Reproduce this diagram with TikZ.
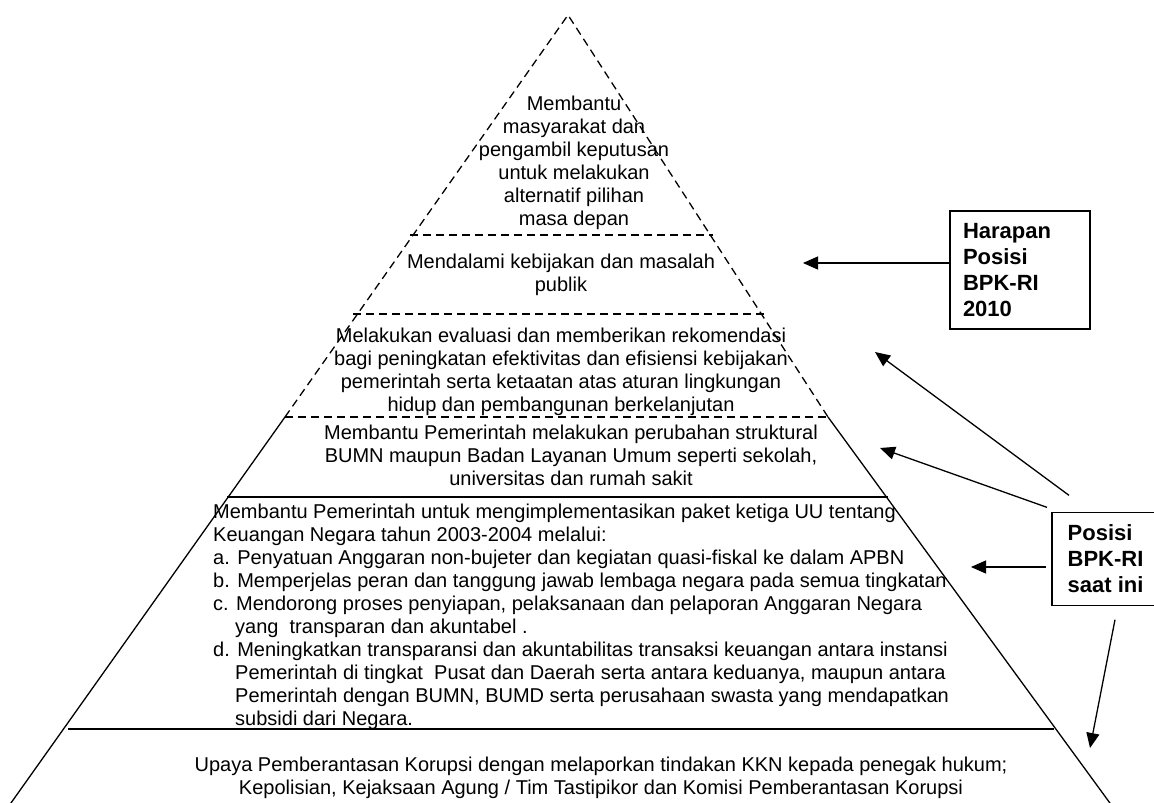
\documentclass[tikz,border=0pt]{standalone}
\usepackage{fontspec}
\setmainfont{Liberation Sans}
\usetikzlibrary{arrows.meta, positioning}

\begin{document}
\begin{tikzpicture}[x=1pt, y=-1pt,
		txt/.style={inner sep=0pt, align=center, font=\fontsize{20}{23}\selectfont},
		tag/.style={line width=1.3pt, inner ysep=0pt, align=left, font=\bfseries\fontsize{22}{26}\selectfont},
		pointer/.style={-{Triangle[length=15pt,width=13pt]}, line width=1.3pt},
		cut/.style={dash pattern=on 8pt off 5pt, line width=1.3pt},
		level/.style={line width=1.3pt}]
		\useasboundingbox (0,0) rectangle (1154,803);
		% pyramid
		\draw[cut] (285,417) -- (568,15) -- (828,417);
		\draw[cut] (410,235) -- (713,235);
		\draw[cut] (353,314) -- (767,314);
		\draw[cut] (285,417) -- (828,417);
		\draw[level] (285,417) -- (6,810);
		\draw[level] (828,417) -- (1115,810);
		\draw[level] (227,497) -- (888,497);
		\draw[level] (68,729) -- (1054,729);
		% texts
		\node at (574,163) [txt] (peak) {Membantu\\masyarakat dan\\pengambil keputusan\\untuk melakukan\\alternatif pilihan\\masa depan};
		\node at (561,275) [txt] (policy) {Mendalami kebijakan dan masalah\\publik};
		\node at (561,372) [txt] (evaluate) {Melakukan evaluasi dan memberikan rekomendasi\\bagi peningkatan efektivitas dan efisiensi kebijakan\\pemerintah serta ketaatan atas aturan lingkungan\\hidup dan pembangunan berkelanjutan};
		\node at (571,455) [txt] (reform) {Membantu Pemerintah melakukan perubahan struktural\\BUMN maupun Badan Layanan Umum seperti sekolah,\\universitas dan rumah sakit};
		\node at (213,504) [txt, align=left, anchor=north west] (finance) {Membantu Pemerintah untuk mengimplementasikan paket ketiga UU tentang\\Keuangan Negara tahun 2003-2004 melalui:\\a. Penyatuan Anggaran non-bujeter dan kegiatan quasi-fiskal ke dalam APBN\\b. Memperjelas peran dan tanggung jawab lembaga negara pada semua tingkatan\\c. Mendorong proses penyiapan, pelaksanaan dan pelaporan Anggaran Negara\\\hspace*{22pt}yang\ \ transparan dan akuntabel .\\d. Meningkatkan transparansi dan akuntabilitas transaksi keuangan antara instansi\\\hspace*{22pt}Pemerintah di tingkat\ \ Pusat dan Daerah serta antara keduanya, maupun antara\\\hspace*{22pt}Pemerintah dengan BUMN, BUMD serta perusahaan swasta yang mendapatkan\\\hspace*{22pt}subsidi dari Negara.};
		\node at (601,778) [txt] (kkn) {Upaya Pemberantasan Korupsi dengan melaporkan tindakan KKN kepada penegak hukum;\\Kepolisian, Kejaksaan Agung / Tim Tastipikor dan Komisi Pemberantasan Korupsi};
		% boxes
		\node at (1020,270) [tag, draw, text width=114pt, inner xsep=13pt, minimum height=118pt] (hope) {Harapan\\Posisi\\BPK-RI\\2010};
		\node at (1052,559) [tag, anchor=west, inner xsep=15pt, minimum height=92pt] (now) {Posisi\\BPK-RI\\saat ini};
		\draw[level] ([xshift=160pt]now.north west) -- (now.north west) -- (now.south west) -- ([xshift=160pt]now.south west);
		% arrows
		\coordinate (tipa) at (803,263);
		\coordinate (tipb) at (875,352);
		\coordinate (tipc) at (880,448);
		\coordinate (tipd) at (971,567);
		\coordinate (tipe) at (1090,748);
		\draw[pointer] ([yshift=7pt]hope.west) -- (tipa);
		\draw[pointer] ([xshift=17pt,yshift=17pt]now.north west) -- (tipb);
		\draw[pointer] ([xshift=-5pt,yshift=5pt]now.north west) -- (tipc);
		\draw[pointer] ([xshift=-6pt,yshift=-8pt]now.west) -- (tipd);
		\draw[pointer] ([xshift=63pt,yshift=-14pt]now.south west) -- (tipe);
\end{tikzpicture}
\end{document}
